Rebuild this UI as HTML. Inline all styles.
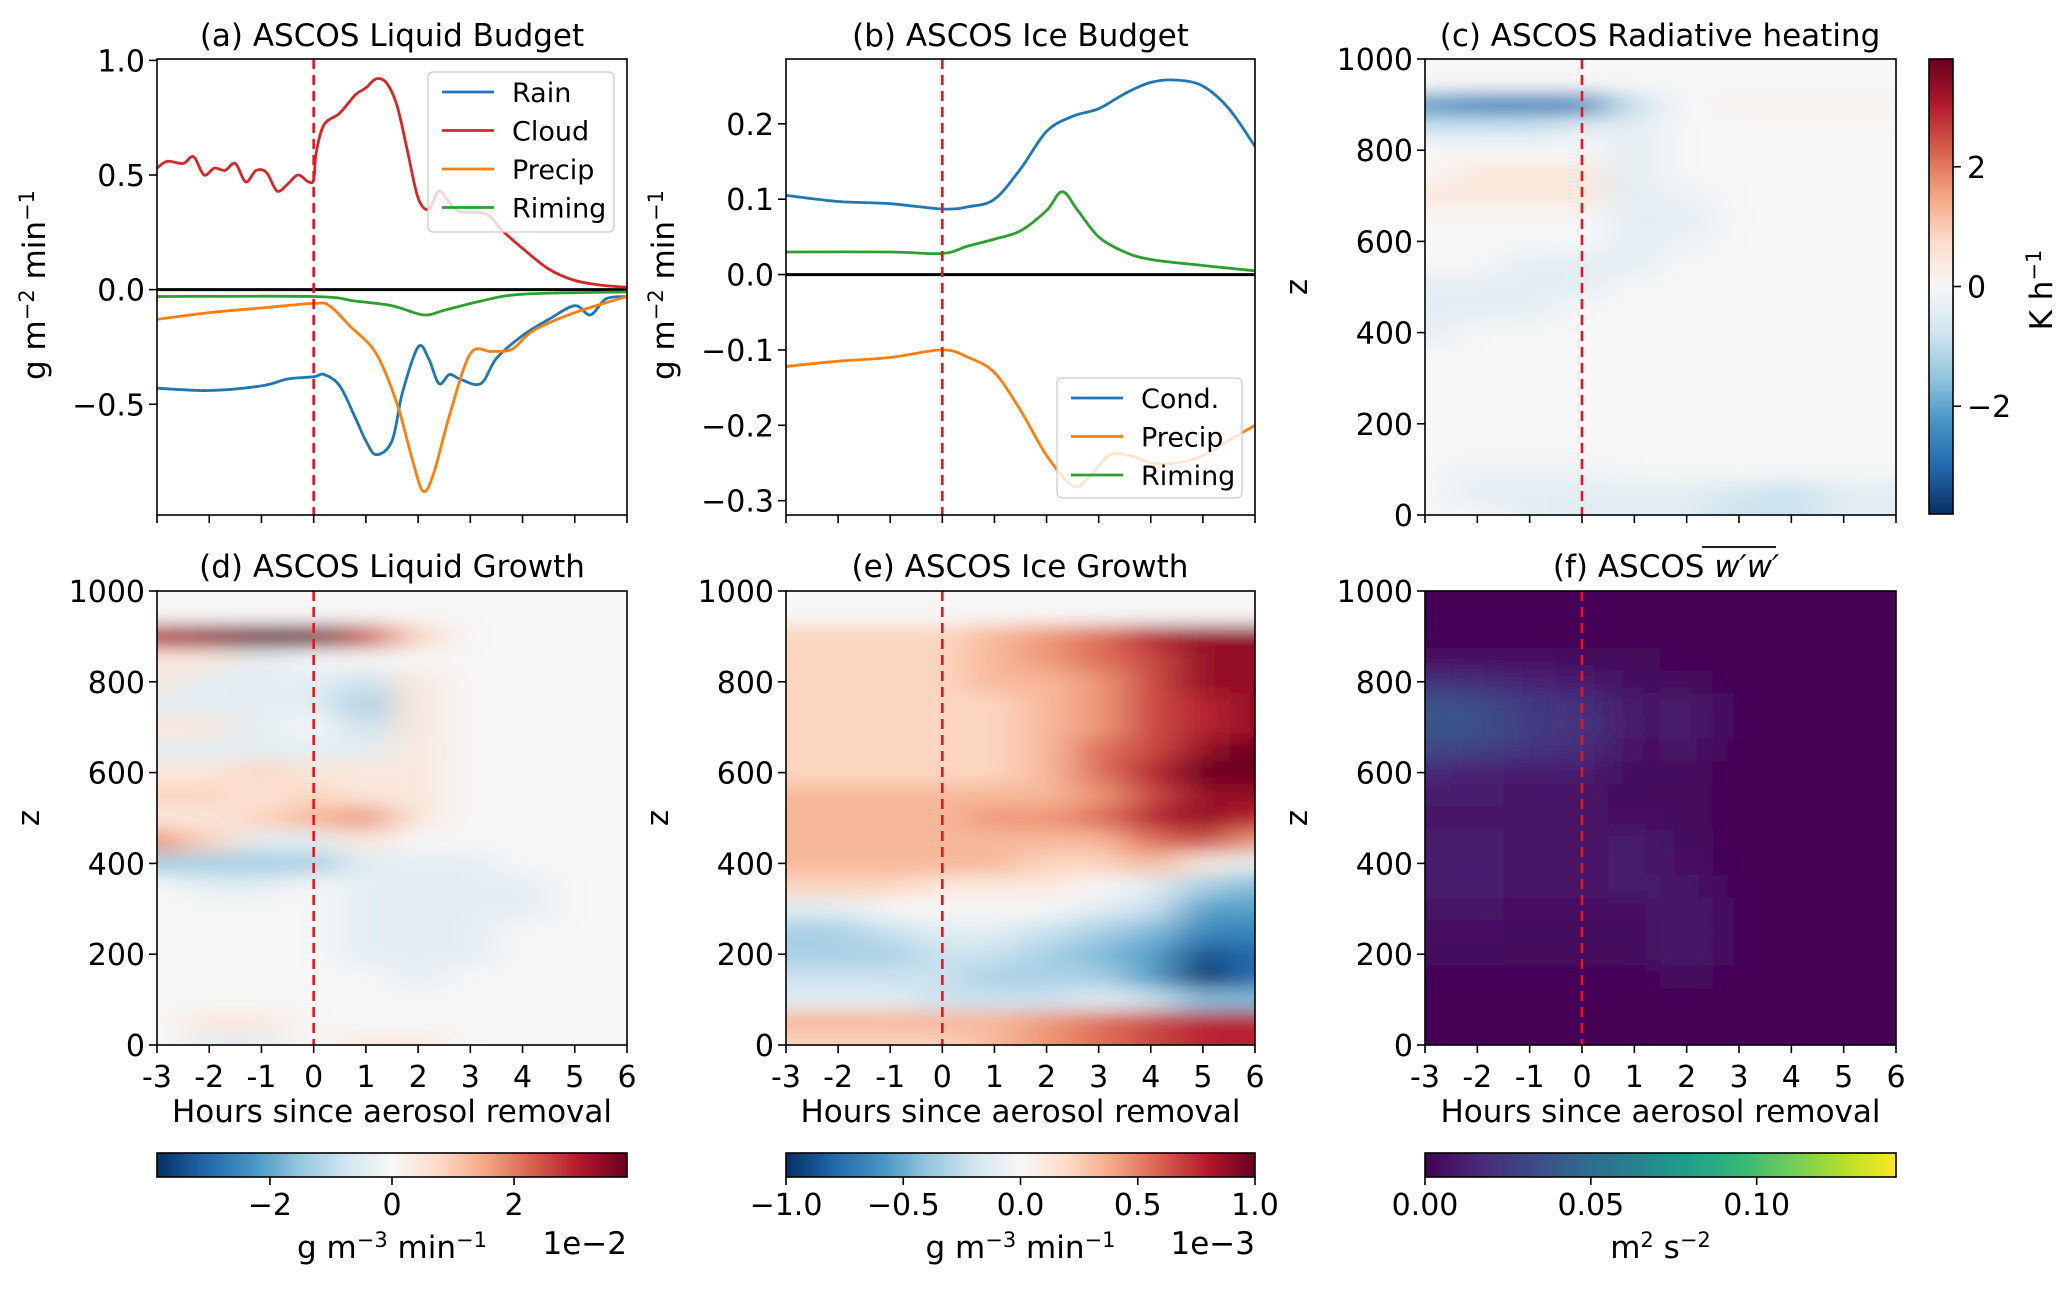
<!DOCTYPE html>
<html><head><meta charset="utf-8"><style>
html,body{margin:0;padding:0;background:#fff;}
svg{display:block;font-family:"DejaVu Sans","Liberation Sans",sans-serif;}
</style></head><body>
<svg id="fig" width="2067" height="1289" viewBox="0 0 2067 1289" xmlns="http://www.w3.org/2000/svg">
<defs>
<filter id="blurH" x="-10%" y="-10%" width="120%" height="120%"><feGaussianBlur stdDeviation="22 9"/></filter>
<linearGradient id="rdbuH" x1="0" x2="1" y1="0" y2="0"></linearGradient>
<linearGradient id="rdbuV" x1="0" x2="0" y1="1" y2="0"></linearGradient>
<linearGradient id="virH" x1="0" x2="1" y1="0" y2="0"></linearGradient>
</defs>
<g id="root"></g>
</svg>
<script>
// ---------- line chart data ----------
const liqCloudX = [-3,-2.8,-2.5,-2.3,-2.1,-1.9,-1.7,-1.5,-1.3,-1.1,-0.9,-0.7,-0.5,-0.3,-0.1,0,0.05,0.2,0.5,0.8,1.0,1.2,1.4,1.6,1.8,2.0,2.2,2.4,2.6,2.8,3.3,3.6,4.0,4.5,5.0,5.5,6.0];
const liqCloudY = [0.53,0.56,0.55,0.58,0.50,0.53,0.52,0.55,0.47,0.52,0.51,0.43,0.46,0.50,0.47,0.48,0.60,0.72,0.77,0.85,0.88,0.92,0.90,0.80,0.60,0.40,0.35,0.43,0.38,0.34,0.33,0.26,0.18,0.09,0.04,0.02,0.01];
const liqRainX = [-3,-2,-1,-0.5,0,0.2,0.5,0.8,1.0,1.2,1.5,1.7,2.0,2.2,2.4,2.6,2.8,3.2,3.5,4.0,4.5,5.0,5.3,5.6,6.0];
const liqRainY = [-0.43,-0.44,-0.42,-0.39,-0.38,-0.37,-0.42,-0.56,-0.66,-0.72,-0.66,-0.45,-0.25,-0.30,-0.41,-0.37,-0.39,-0.41,-0.30,-0.20,-0.13,-0.07,-0.11,-0.04,-0.03];
const liqPrecipX = [-3,-2,-1,0,0.3,0.7,1.2,1.6,1.9,2.1,2.3,2.6,3.0,3.4,3.8,4.2,5.0,6.0];
const liqPrecipY = [-0.13,-0.10,-0.08,-0.06,-0.07,-0.16,-0.28,-0.50,-0.75,-0.88,-0.80,-0.55,-0.28,-0.27,-0.26,-0.18,-0.10,-0.03];
const liqRimingX = [-3,0,0.8,1.5,2.1,2.5,3.2,4.0,6.0];
const liqRimingY = [-0.03,-0.03,-0.05,-0.07,-0.11,-0.09,-0.05,-0.02,-0.01];
const liqYTicks = [-0.5,0.0,0.5,1.0];
const liqYTickLabels = ["\u22120.5","0.0","0.5","1.0"];

const iceCondX = [-3,-2,-1,0,0.5,1,1.5,2,2.5,3,3.5,4,4.5,5,5.5,6];
const iceCondY = [0.105,0.097,0.094,0.087,0.090,0.100,0.140,0.190,0.210,0.220,0.240,0.255,0.258,0.250,0.220,0.170];
const iceRimingX = [-3,-1,0,0.5,1,1.5,2,2.3,2.6,3,3.5,4,5,6];
const iceRimingY = [0.030,0.030,0.028,0.038,0.047,0.058,0.085,0.110,0.085,0.050,0.030,0.020,0.012,0.005];
const icePrecipX = [-3,-2,-1,0,0.5,1,1.5,2,2.5,2.8,3.2,3.6,4,4.5,5,5.5,6];
const icePrecipY = [-0.122,-0.115,-0.110,-0.100,-0.110,-0.130,-0.180,-0.240,-0.280,-0.270,-0.240,-0.240,-0.250,-0.250,-0.240,-0.220,-0.200];
const iceYTicks = [-0.3,-0.2,-0.1,0.0,0.1,0.2];
const iceYTickLabels = ["\u22120.3","\u22120.2","\u22120.1","0.0","0.1","0.2"];

const hourTicks = [-3,-2,-1,0,1,2,3,4,5,6];
const hourTickLabels = ["-3","-2","-1","0","1","2","3","4","5","6"];
const zTicks = [0,200,400,600,800,1000];

// ---------- heatmap data (columns = hours, rows = heights) ----------
const heatHours = [-3,-2,-1,0,1,2,3,4,5,6];
const heatHeights = [1000,950,900,850,800,750,700,650,600,550,500,450,400,350,300,250,200,150,100,50,0];
const radRows = [
[0,0,0,0,0,0,0,0,0,0],[0,0,0,0,0,0,0,0,0,0],
[-5,-6,-6,-6,-2,0,0.3,0.3,0.3,0.3],[-2,-2,-2,-1,-1,0,0,0,0,0],
[0,0,0,0,-1,0,0,0,0,0],[0,1,1,1,-1,0,0,0,0,0],[1,1,1,1,-1,-0.5,0,0,0,0],
[0,0,0,0,-1,-1,0,0,0,0],[0,0,0,0,-1,-0.5,0,0,0,0],[0,0,-1,-1,-1,0,0,0,0,0],
[-1,-1,-1,-1,0,0,0,0,0,0],[-1,-1,-1,0,0,0,0,0,0,0],[-1,0,0,0,0,0,0,0,0,0],
[0,0,0,0,0,0,0,0,0,0],[0,0,0,0,0,0,0,0,0,0],[0,0,0,0,0,0,0,0,0,0],
[0,0,0,0,0,0,0,0,0,0],[0,0,0,0,0,0,0,0,0,0],[0,-0.5,-0.5,-0.5,0,0,0,0,0,0],
[0,-1,-1,-1,-1,-1,-1.5,-2,-1,-1],[0,0,-1,-1,-1,-1,-2,-2,-1,-1]];
const liqGrowthRows = [
[0,0,0,0,0,0,0,0,0,0],[0,0,0,0,0,0,0,0,0,0],
[7,8,9,9,6,2,0,0,0,0],[1,1,-1,0,0,0,0,0,0,0],
[1,-1,-1,-1,-2,1,0,0,0,0],[-1,-1,-1,-1,-3,1,0,0,0,0],[1,1,-1,0,-2,1,0,0,0,0],
[-1,-1,-1,-1,-1,1,0,0,0,0],[1,1,2,1,1,1,0,0,0,0],[2,2,1,2,1,1,0,0,0,0],
[1,1,2,3,4,1,0,0,0,0],[4,2,-1,-1,1,0,0,0,0,0],[-3,-3,-3,-3,-1,-1,-1,0,0,0],
[0,-1,-1,0,-1,-1,-1,-1,0,0],[0,0,0,0,-1,-1,-1,-1,0,0],[0,0,0,0,-1,-1,-1,0,0,0],
[0,0,0,0,-1,-1,-1,0,0,0],[0,0,0,0,0,-1,0,0,0,0],[0,0,0,0,0,0,0,0,0,0],
[0,1,1,0,0,0,0,0,0,0],[0,-1,-1,0,1,1,0,0,0,0]];
const iceGrowthRows = [
[0,0,0,0,0,0,0,0,0,0],[0,0,0,0,0,0,0,0,0,0],
[2,2,2,2,3,4,5,7,8,8],[2,2,2,2,3,4,5,6,8,8],[2,2,2,2,3,3,4,6,8,8],
[2,2,2,2,2,3,4,6,7,8],[2,2,2,2,2,3,4,6,7,8],[2,2,2,2,2,3,5,6,8,9],
[2,2,2,2,2,3,5,7,9,9],[3,3,3,3,3,3,4,6,8,8],[3,3,3,3,4,4,5,7,8,7],
[3,3,3,3,3,3,3,5,6,4],[3,3,3,3,3,2,2,3,1,-1],[2,2,2,1,1,1,0,-1,-3,-4],
[-1,-1,0,0,0,0,-1,-2,-5,-5],[-3,-3,-2,-1,-1,-2,-3,-4,-6,-6],[-3,-3,-3,-2,-2,-3,-4,-5,-8,-7],
[-2,-2,-2,-2,-3,-3,-3,-5,-9,-7],[-1,-1,-1,-2,-2,-2,-1,-2,-4,-4],
[3,3,3,3,3,4,5,6,7,7],[2,2,2,2,3,4,5,6,7,7]];
const wwRows = [
[0,0,0,0,0,0,0,0,0,0],[2,2,2,2,1,0,0,0,0,0],[0,0,0,0,0,0,0,0,0,0],
[6,6,6,5,3,1,0,0,0,0],[20,18,14,12,5,4,0,0,0,0],[36,34,24,20,8,10,0,0,0,0],
[38,36,26,22,8,12,0,0,0,0],[30,28,20,18,6,8,0,0,0,0],[16,14,12,12,5,4,0,0,0,0],
[10,10,8,8,4,3,0,0,0,0],[8,8,8,8,6,3,0,0,0,0],[10,10,8,8,10,4,0,0,0,0],
[10,12,8,8,12,6,1,0,0,0],[10,12,8,8,10,8,1,0,0,0],[8,8,6,6,6,10,1,0,0,0],
[6,6,5,5,4,12,1,0,0,0],[4,4,3,3,3,10,1,0,0,0],[2,2,2,2,2,5,0,0,0,0],
[0,0,0,0,0,0,0,0,0,0],[0,0,0,0,0,0,0,0,0,0],[0,0,0,0,0,0,0,0,0,0]];

const RDBU = ["#053061","#2166ac","#4393c3","#92c5de","#d1e5f0","#f7f7f7","#fddbc7","#f4a582","#d6604d","#b2182b","#67001f"];
const VIR = ["#440154","#482878","#3e4989","#31688e","#26828e","#1f9e89","#35b779","#6ece58","#b5de2b","#fde725"];

const FS=30, TFS=31;
const NS="http://www.w3.org/2000/svg";
const root=document.getElementById('root');
function mk(tag,attrs,parent){const e=document.createElementNS(NS,tag);for(const k in attrs)e.setAttribute(k,attrs[k]);(parent||root).appendChild(e);return e;}
function txt(s,x,y,size,anchor,parent,extra){const t=mk('text',Object.assign({x:x,y:y,'font-size':size,'text-anchor':anchor||'middle',fill:'#000'},extra||{}),parent);t.textContent=s;return t;}
function hex(h){return [1,3,5].map(i=>parseInt(h.substr(i,2),16));}
function cmap(stops,t){t=Math.max(0,Math.min(1,t));const n=stops.length-1;const i=Math.min(n-1,Math.floor(t*n));const f=t*n-i;const a=hex(stops[i]),b=hex(stops[i+1]);return 'rgb('+a.map((v,k)=>Math.round(v+(b[k]-v)*f)).join(',')+')';}
function fillGrad(id,stops){const g=document.getElementById(id);stops.forEach((c,i)=>{const s=document.createElementNS(NS,'stop');s.setAttribute('offset',(i/(stops.length-1)));s.setAttribute('stop-color',c);g.appendChild(s);});}
fillGrad('rdbuH',RDBU);fillGrad('rdbuV',RDBU);fillGrad('virH',VIR);

const TOP={y0:59,y1:515}, BOT={y0:591,y1:1045};
const COLS=[{x0:157,x1:627},{x0:786,x1:1255},{x0:1425,x1:1896}];
function xScale(c){return h=>c.x0+(h+3)/9*(c.x1-c.x0);}
function yScale(r,lo,hi){return v=>r.y1-(v-lo)/(hi-lo)*(r.y1-r.y0);}

function smoothPath(pts){
  let d='M'+pts[0][0].toFixed(1)+','+pts[0][1].toFixed(1);
  for(let i=0;i<pts.length-1;i++){
    const p0=pts[Math.max(0,i-1)],p1=pts[i],p2=pts[i+1],p3=pts[Math.min(pts.length-1,i+2)];
    const c1=[p1[0]+(p2[0]-p0[0])/6,p1[1]+(p2[1]-p0[1])/6];
    const c2=[p2[0]-(p3[0]-p1[0])/6,p2[1]-(p3[1]-p1[1])/6];
    d+='C'+c1[0].toFixed(1)+','+c1[1].toFixed(1)+' '+c2[0].toFixed(1)+','+c2[1].toFixed(1)+' '+p2[0].toFixed(1)+','+p2[1].toFixed(1);
  }
  return d;
}

function axesFrame(g,c,r,showXLabels){
  const xs=xScale(c);
  hourTicks.forEach((h,i)=>{
    mk('line',{x1:xs(h),x2:xs(h),y1:r.y1,y2:r.y1+8,stroke:'#000','stroke-width':1.6},g);
    if(showXLabels){const t=txt(hourTickLabels[i],xs(h),r.y1+42,FS,'middle',g);
      }
  });
  mk('rect',{x:c.x0,y:r.y0,width:c.x1-c.x0,height:r.y1-r.y0,fill:'none',stroke:'#000','stroke-width':1.6},g);
  if(showXLabels){const t=txt('Hours since aerosol removal',(c.x0+c.x1)/2,r.y1+77,TFS,'middle',g);
    }
}
function yTicks(g,c,ticks,labels,ys){
  ticks.forEach((v,i)=>{
    mk('line',{x1:c.x0-8,x2:c.x0,y1:ys(v),y2:ys(v),stroke:'#000','stroke-width':1.6},g);
    const t=txt(labels[i],c.x0-12,ys(v)+11,FS,'end',g);
    
  });
}
function dashedZero(g,c,r){const xs=xScale(c);const l=mk('line',{x1:xs(0),x2:xs(0),y1:r.y0,y2:r.y1,stroke:'#e8141e','stroke-width':2.6,'stroke-dasharray':'10,6'},g);
  }
function rotLabel(g,s,x,y,name){const t=mk('text',{x:0,y:0,'font-size':TFS,'text-anchor':'middle',transform:'translate('+x+','+y+') rotate(-90)'},g);t.innerHTML=s;
  return t;}
function title(g,s,x,y){const t=txt(s,x,y,TFS,'middle',g);return t;}

function linePanel(c,r,lo,hi,series,ticks,labels,name,ttl){
  const g=mk('g',{});
  const xs=xScale(c),ys=yScale(r,lo,hi);
  const cid='clip-'+name;const cp=mk('clipPath',{id:cid},g);mk('rect',{x:c.x0,y:r.y0,width:c.x1-c.x0,height:r.y1-r.y0},cp);
  const pg=mk('g',{'clip-path':'url(#'+cid+')'},g);
  mk('line',{x1:c.x0,x2:c.x1,y1:ys(0),y2:ys(0),stroke:'#000','stroke-width':3},pg);
  series.forEach(s=>{
    const pts=s.x.map((h,i)=>[xs(h),ys(s.y[i])]);
    const p=mk('path',{d:smoothPath(pts),fill:'none',stroke:s.color,'stroke-width':2.8,'stroke-linejoin':'round'},pg);
    
  });
  dashedZero(pg,c,r);
  axesFrame(g,c,r,false);
  yTicks(g,c,ticks,labels,ys);
  title(g,ttl,(c.x0+c.x1)/2,46);
  return g;
}
function legend(g,x,y,w,h,items){
  const lg=mk('g',{},g);
  mk('rect',{x:x,y:y,width:w,height:h,rx:5,fill:'#fff','fill-opacity':0.8,stroke:'#ccc','stroke-width':1.3},lg);
  items.forEach((it,i)=>{const yy=y+20+i*38.5;
    const e=mk('g',{},lg);
    mk('line',{x1:x+14,x2:x+66,y1:yy,y2:yy,stroke:it.color,'stroke-width':2.8},e);
    txt(it.label,x+84,yy+10,27,'start',e);});
}

const ga=linePanel(COLS[0],TOP,-0.983,1.006,[
 {x:liqRainX,y:liqRainY,color:'#1f77b4',name:'rain-line'},
 {x:liqCloudX,y:liqCloudY,color:'#d62728',name:'cloud-line'},
 {x:liqPrecipX,y:liqPrecipY,color:'#ff7f0e',name:'precip-line'},
 {x:liqRimingX,y:liqRimingY,color:'#2ca02c',name:'riming-line'}],liqYTicks,liqYTickLabels,'liquid-budget-panel','(a) ASCOS Liquid Budget');
legend(ga,428,72,186,160,[{label:'Rain',color:'#1f77b4'},{label:'Cloud',color:'#d62728'},{label:'Precip',color:'#ff7f0e'},{label:'Riming',color:'#2ca02c'}]);
rotLabel(ga,'g m<tspan dy="-11" font-size="21">\u22122</tspan><tspan dy="11"> min</tspan><tspan dy="-11" font-size="21">\u22121</tspan>',45,285,'y-axis-title');

const gb=linePanel(COLS[1],TOP,-0.319,0.286,[
 {x:iceCondX,y:iceCondY,color:'#1f77b4',name:'cond-line'},
 {x:icePrecipX,y:icePrecipY,color:'#ff7f0e',name:'precip-line'},
 {x:iceRimingX,y:iceRimingY,color:'#2ca02c',name:'riming-line'}],iceYTicks,iceYTickLabels,'ice-budget-panel','(b) ASCOS Ice Budget');
legend(gb,1057,378,185,120,[{label:'Cond.',color:'#1f77b4'},{label:'Precip',color:'#ff7f0e'},{label:'Riming',color:'#2ca02c'}]);
rotLabel(gb,'g m<tspan dy="-11" font-size="21">\u22122</tspan><tspan dy="11"> min</tspan><tspan dy="-11" font-size="21">\u22121</tspan>',674,285,'y-axis-title');

function heatPanel(c,r,rows,colorFn,name,showX,bg){
  const g=mk('g',{});
  const xs=xScale(c),ys=yScale(r,0,1000);
  const cid='clip-'+name;const cp=mk('clipPath',{id:cid},g);mk('rect',{x:c.x0,y:r.y0,width:c.x1-c.x0,height:r.y1-r.y0},cp);
  const pg=mk('g',{'clip-path':'url(#'+cid+')'},g);
  mk('rect',{x:c.x0,y:r.y0,width:c.x1-c.x0,height:r.y1-r.y0,fill:bg},pg);
  const bl=mk('g',{filter:'url(#blurH)'},pg);
  rows.forEach((row,j)=>row.forEach((v,i)=>{
    const h=heatHours[i],z=heatHeights[j];
    const x0=xs(h-0.5),x1=xs(h+0.5),y0=ys(z+25),y1=ys(z-25);
    const pad=(i===0||i===row.length-1)?50:0, padY=(j===0||j===rows.length-1)?25:0;
    const cell=mk('rect',{x:(x0-(i===0?pad:0)).toFixed(1),y:(y0-(j===0?padY:0)).toFixed(1),width:(x1-x0+pad+0.8).toFixed(1),height:(y1-y0+padY+0.8).toFixed(1),fill:colorFn(v)},bl);
    
    
  }));
  dashedZero(pg,c,r);
  axesFrame(g,c,r,showX);
  yTicks(g,c,zTicks,zTicks.map(String),ys);
  rotLabel(g,'z',c.x0-118,(r.y0+r.y1)/2,'y-axis-title');
  return g;
}
const gc=heatPanel(COLS[2],TOP,radRows,v=>cmap(RDBU,(v*0.42/3.8+1)/2),'radiative-heating-panel',false,'#f4f5f6');
title(gc,'(c) ASCOS Radiative heating',1660,46);
const gd=heatPanel(COLS[0],BOT,liqGrowthRows,v=>cmap(RDBU,(v*0.43/3.85+1)/2),'liquid-growth-panel',true,'#f5f6f6');
title(gd,'(d) ASCOS Liquid Growth',392,577);
const ge=heatPanel(COLS[1],BOT,iceGrowthRows,v=>cmap(RDBU,(v*0.11+1)/2),'ice-growth-panel',true,'#f7f7f7');
title(ge,'(e) ASCOS Ice Growth',1020,577);
const gf=heatPanel(COLS[2],BOT,wwRows,v=>cmap(VIR,v*0.001/0.142),'wprime-variance-panel',true,'#440154');
const ft=mk('text',{x:1666,y:577,'font-size':TFS,'text-anchor':'middle'},gf);

ft.innerHTML='(f) ASCOS <tspan font-style="italic">w\u2032w\u2032</tspan>';
mk('line',{x1:1702,x2:1776,y1:547,y2:547,stroke:'#000','stroke-width':1.8},gf);

function hColorbar(c,grad,ticks,labels,lo,hi,label,exp,name){
  const g=mk('g',{});
  const y0=1153,y1=1177;
  mk('rect',{x:c.x0,y:y0,width:c.x1-c.x0,height:y1-y0,fill:'url(#'+grad+')',stroke:'#000','stroke-width':1.6},g);
  ticks.forEach((v,i)=>{const x=c.x0+(v-lo)/(hi-lo)*(c.x1-c.x0);
    mk('line',{x1:x,x2:x,y1:y1,y2:y1+8,stroke:'#000','stroke-width':1.6},g);
    const t=txt(labels[i],x,y1+38,FS,'middle',g);});
  const l=mk('text',{x:(c.x0+c.x1)/2,y:1258,'font-size':TFS,'text-anchor':'middle'},g);l.innerHTML=label;
  
  if(exp){const e=txt(exp,c.x1,1254,TFS,'end',g);}
}
const gUnit='g m<tspan dy="-11" font-size="21">\u22123</tspan><tspan dy="11"> min</tspan><tspan dy="-11" font-size="21">\u22121</tspan>';
hColorbar(COLS[0],'rdbuH',[-2,0,2],['\u22122','0','2'],-3.85,3.85,gUnit,'1e\u22122','liquid-growth-colorbar');
hColorbar(COLS[1],'rdbuH',[-1,-0.5,0,0.5,1],['\u22121.0','\u22120.5','0.0','0.5','1.0'],-1,1,gUnit,'1e\u22123','ice-growth-colorbar');
hColorbar(COLS[2],'virH',[0,0.05,0.10],['0.00','0.05','0.10'],0,0.142,'m<tspan dy="-11" font-size="21">2</tspan><tspan dy="11"> s</tspan><tspan dy="-11" font-size="21">\u22122</tspan>',null,'wprime-colorbar');

(function(){
  const g=mk('g',{});
  const x0=1929,x1=1953,y0=59,y1=514,lo=-3.8,hi=3.8;
  mk('rect',{x:x0,y:y0,width:x1-x0,height:y1-y0,fill:'url(#rdbuV)',stroke:'#000','stroke-width':1.6},g);
  [[-2,'\u22122'],[0,'0'],[2,'2']].forEach(([v,s])=>{const y=y1-(v-lo)/(hi-lo)*(y1-y0);
    mk('line',{x1:x1,x2:x1+8,y1:y,y2:y,stroke:'#000','stroke-width':1.6},g);
    const t=txt(s,x1+14,y+11,FS,'start',g);});
  rotLabel(g,'K h<tspan dy="-11" font-size="21">\u22121</tspan>',2052,290,'colorbar-label');
})();
</script>
</body></html>
